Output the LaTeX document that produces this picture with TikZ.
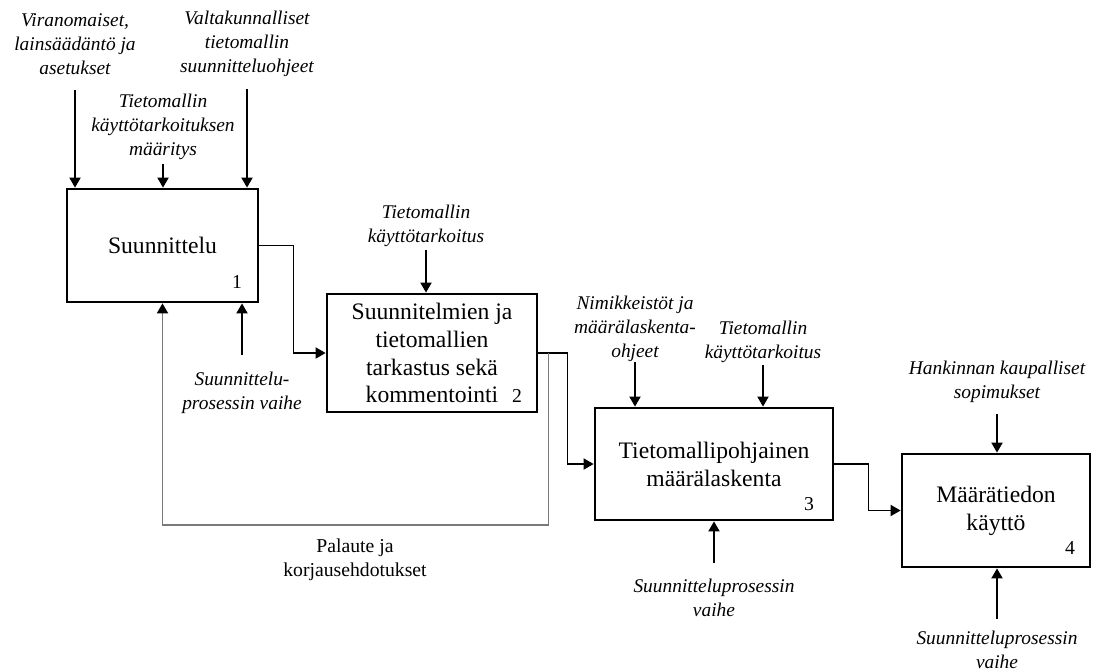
\documentclass[tikz,border=0pt]{standalone}
\usepackage{fontspec}
\setmainfont{Liberation Serif}
\usetikzlibrary{arrows.meta}
\definecolor{feedGray}{HTML}{7A7A7A}

\begin{document}
\begin{tikzpicture}[x=0.025cm,y=-0.025cm,
    fbox/.style={draw,line width=2pt,align=center,inner sep=2pt,
                 font=\fontsize{16.8}{19.8}\selectfont},
    lbl/.style={align=center,inner sep=0pt,font=\fontsize{13.8}{17}\selectfont\itshape},
    num/.style={inner sep=0pt,font=\fontsize{14}{17}\selectfont},
    arrow/.style={-{Triangle[length=0.25cm,width=0.28cm,black]},line width=0.9pt},
    feedback/.style={arrow,draw=feedGray}]
    \useasboundingbox (0,0) rectangle (1097,671);
    % activity boxes
    \node[fbox,minimum width=4.775cm,minimum height=2.825cm] (suunn) at (162.5,245.5) {Suunnittelu};
    \node[fbox,minimum width=5.25cm,minimum height=2.95cm] (tarkastus) at (432,353)
        {Suunnitelmien ja\\tietomallien\\tarkastus sekä\\kommentointi};
    \node[fbox,minimum width=5.95cm,minimum height=2.8cm] (maara) at (714,464)
        {Tietomallipohjainen\\määrälaskenta};
    \node[fbox,minimum width=4.7cm,minimum height=2.825cm] (kaytto) at (996,510.5)
        {Määrätiedon\\käyttö};
    \node[num] (n1) at (237,282) {1};
    \node[num] (n2) at (517,396) {2};
    \node[num] (n3) at (809,504) {3};
    \node[num] (n4) at (1070,548) {4};
    % inputs and mechanisms
    \node[lbl] (viran) at (75,44) {Viranomaiset,\\lainsäädäntö ja\\asetukset};
    \node[lbl] (valtak) at (247,44) {Valtakunnalliset\\tietomallin\\suunnitteluohjeet};
    \node[lbl] (maaritys) at (163,127) {Tietomallin\\käyttötarkoituksen\\määritys};
    \node[lbl] (kayttoA) at (426,226) {Tietomallin\\käyttötarkoitus};
    \node[lbl] (vaiheA) at (242,393) {Suunnittelu-\\prosessin vaihe};
    \node[lbl] (nimikk) at (635,329) {Nimikkeistöt ja\\määrälaskenta-\\ohjeet};
    \node[lbl] (kayttoB) at (763,342) {Tietomallin\\käyttötarkoitus};
    \node[lbl] (vaiheB) at (714,598) {Suunnitteluprosessin\\vaihe};
    \node[lbl] (hankinta) at (997,382) {Hankinnan kaupalliset\\sopimukset};
    \node[lbl] (vaiheC) at (997,650) {Suunnitteluprosessin\\vaihe};
    \node[num,align=center] (palaute) at (355,560) {Palaute ja\\korjausehdotukset};
    % arrows down into the boxes
    \draw[arrow] ([yshift=-11pt]viran.south) -- (viran.south |- suunn.north);
    \draw[arrow] ([yshift=-8.5pt]valtak.south) -- (valtak.south |- suunn.north);
    \draw[arrow] ([yshift=-3pt]maaritys.south) -- (maaritys.south |- suunn.north);
    \draw[arrow] ([yshift=-2pt]kayttoA.south) -- (kayttoA.south |- tarkastus.north);
    \draw[arrow] (nimikk.south) -- (nimikk.south |- maara.north);
    \draw[arrow] ([yshift=-1.5pt]kayttoB.south) -- (kayttoB.south |- maara.north);
    \draw[arrow] ([yshift=-8pt]hankinta.south) -- (hankinta.south |- kaytto.north);
    % arrows up into the boxes
    \draw[arrow] ([yshift=12pt]vaiheA.north) -- (vaiheA.north |- suunn.south);
    \draw[arrow] ([yshift=11.5pt]vaiheB.north) -- (vaiheB.north |- maara.south);
    \draw[arrow] ([yshift=8.5pt]vaiheC.north) -- (vaiheC.north |- kaytto.south);
    % flow between the boxes
    \draw[arrow] (suunn.east) -- ++(34,0) |- (tarkastus.west);
    \draw[arrow] (tarkastus.east) -- ++(29,0) |- (maara.west);
    \draw[arrow] (maara.east) -- ++(34,0) |- (kaytto.west);
    \path (tarkastus.east) ++(10,0) coordinate (haara);
    \draw[feedback] (haara) -- ++(0,172) -| (suunn.south);
\end{tikzpicture}
\end{document}
